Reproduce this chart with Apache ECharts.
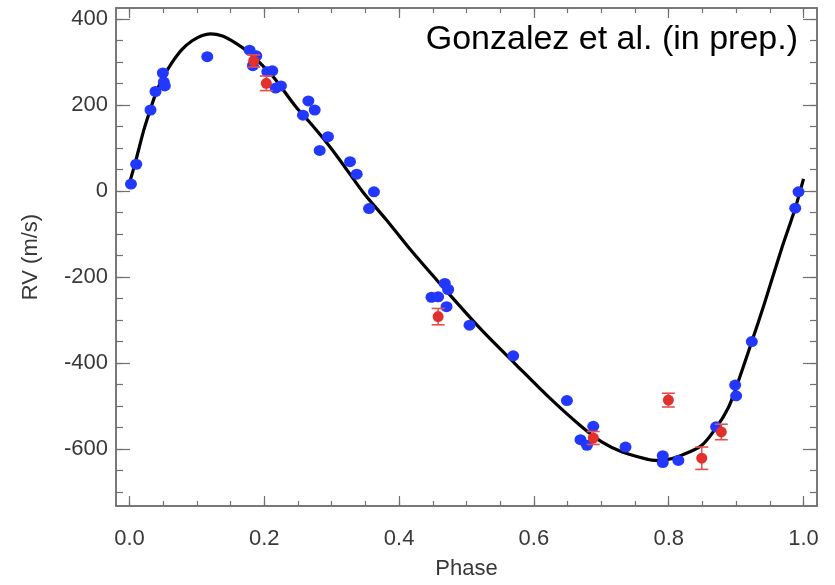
<!DOCTYPE html>
<html>
<head>
<meta charset="utf-8">
<script src="https://cdn.jsdelivr.net/npm/echarts@6/dist/echarts.min.js"></script>
<style>
html,body{margin:0;padding:0;background:#fff;}
#chart{width:835px;height:585px;}
</style>
</head>
<body>
<div id="chart"></div>
<script>
// ---- data ----
const bluePhase = [0.0022,0.0100,0.0312,0.0386,0.0495,0.0509,0.0524,0.1154,0.1782,0.1882,0.1831,0.2045,0.2119,0.2168,0.2247,0.2574,0.2654,0.2748,0.2945,0.2822,0.3272,0.3371,0.3627,0.3554,0.4678,0.4728,0.4481,0.4579,0.4704,0.5045,0.5693,0.6490,0.6881,0.6691,0.6787,0.7359,0.7912,0.7912,0.8143,0.8703,0.8986,0.9000,0.9233,0.9877,0.9926];
const blueRV    = [16,62,188,231,274,253,244,312,327,314,291,277,279,239,244,176,209,188,126,94,68,39,-2,-41,-215,-229,-247,-246,-269,-312,-383,-487,-547,-578,-591,-595,-615,-631,-626,-548,-451,-476,-350,-40,-2];

const redPhase = [0.1842,0.2030,0.4579,0.6881,0.7995,0.8490,0.8780];
const redRV    = [302,250,-292,-574,-486,-621,-560];
const redErr   = [14,17,19,15,16,26,18];

const curvePhase = [0.000,0.009,0.021,0.029,0.039,0.049,0.063,0.078,0.093,0.108,0.120,0.138,0.157,0.177,0.197,0.215,0.2465,0.267,0.290,0.312,0.3465,0.381,0.416,0.4604,0.5223,0.5718,0.6213,0.6709,0.7006,0.7303,0.7698,0.7797,0.795,0.8194,0.8491,0.8714,0.8886,0.8986,0.9233,0.9421,0.9669,0.9877,1.000];
const curveRV    = [18,68,140,180,226,261,298,329,349,361,365,360,344,322,292,262,196,160,117,72,-3,-67,-135,-215,-323,-401,-478,-548,-583,-606,-624,-626,-625,-614,-591,-548,-503,-463,-350,-261,-137,-40,28];

const xMajorTicks = [0,0.2,0.4,0.6,0.8,1.0];
const xMinorTicks = [0,0.05,0.1,0.15,0.2,0.25,0.3,0.35,0.4,0.45,0.5,0.55,0.6,0.65,0.7,0.75,0.8,0.85,0.9,0.95,1.0];
const yMajorTicks = [-600,-400,-200,0,200,400];
const yMinorTicks = [-700,-650,-600,-550,-500,-450,-400,-350,-300,-250,-200,-150,-100,-50,0,50,100,150,200,250,300,350,400];

const xRange = [-0.02, 1.02];
const yRange = [-732, 425];

const FONT = "'Liberation Sans', Arial, Helvetica, sans-serif";
const AXIS_COLOR = '#707070';
const LABEL_COLOR = '#383838';

function xAx(pos, ticks, len, withLabel) {
  const a = {
    type: 'value', position: pos, min: xRange[0], max: xRange[1],
    splitLine: {show: false},
    axisLine: {show: true, onZero: false, lineStyle: {color: AXIS_COLOR, width: 1.5}},
    axisTick: {show: true, inside: true, length: len, customValues: ticks, lineStyle: {color: AXIS_COLOR, width: 1.2}},
    axisLabel: {show: false}
  };
  if (withLabel) {
    a.axisLabel = {show: true, customValues: xMajorTicks, formatter: v => Number(v).toFixed(1),
      fontSize: 22, color: LABEL_COLOR, fontFamily: FONT, margin: 22};
    a.name = 'Phase'; a.nameLocation = 'middle'; a.nameGap = 52;
    a.nameTextStyle = {fontSize: 22, color: LABEL_COLOR, fontFamily: FONT};
  }
  return a;
}
function yAx(pos, ticks, len, withLabel) {
  const a = {
    type: 'value', position: pos, min: yRange[0], max: yRange[1],
    splitLine: {show: false},
    axisLine: {show: true, onZero: false, lineStyle: {color: AXIS_COLOR, width: 1.5}},
    axisTick: {show: true, inside: true, length: len, customValues: ticks, lineStyle: {color: AXIS_COLOR, width: 1.2}},
    axisLabel: {show: false}
  };
  if (withLabel) {
    a.axisLabel = {show: true, customValues: yMajorTicks, formatter: v => String(Math.round(v)),
      fontSize: 22, color: LABEL_COLOR, fontFamily: FONT, margin: 8};
    a.name = 'RV (m/s)'; a.nameLocation = 'middle'; a.nameGap = 74;
    a.nameTextStyle = {fontSize: 22, color: LABEL_COLOR, fontFamily: FONT};
  }
  return a;
}

const curveData = curvePhase.map((p, i) => [p, curveRV[i]]);
const blueData = bluePhase.map((p, i) => [p, blueRV[i]]);
const redData = redPhase.map((p, i) => [p, redRV[i], redErr[i]]);

const chart = echarts.init(document.getElementById('chart'), null, {renderer: 'canvas'});
chart.setOption({
  animation: false,
  backgroundColor: '#ffffff',
  grid: {left: 116, right: 18, top: 8, bottom: 79, containLabel: false},
  xAxis: [
    xAx('bottom', xMajorTicks, 10, true),
    xAx('bottom', xMinorTicks, 5, false),
    xAx('top', xMajorTicks, 10, false),
    xAx('top', xMinorTicks, 5, false)
  ],
  yAxis: [
    yAx('left', yMajorTicks, 14, true),
    yAx('left', yMinorTicks, 7, false),
    yAx('right', yMajorTicks, 14, false),
    yAx('right', yMinorTicks, 7, false)
  ],
  graphic: [{
    type: 'text', right: 37, top: 23, z: 100,
    style: {text: 'Gonzalez et al. (in prep.)', font: '34px ' + FONT, fill: '#000'}
  }],
  series: [
    {
      type: 'line', data: curveData, xAxisIndex: 0, yAxisIndex: 0,
      showSymbol: false, smooth: 0.3, z: 2,
      lineStyle: {color: '#000', width: 3.2}
    },
    {
      type: 'scatter', data: blueData, xAxisIndex: 0, yAxisIndex: 0,
      symbol: 'circle', symbolSize: [12, 11], z: 3,
      itemStyle: {color: '#2238ff', opacity: 1}
    },
    {
      type: 'custom', data: redData, xAxisIndex: 0, yAxisIndex: 0, z: 4,
      renderItem: function (params, api) {
        const x = api.value(0), y = api.value(1), e = api.value(2);
        const top = api.coord([x, y + e]);
        const bot = api.coord([x, y - e]);
        const hw = 6.5;
        const st = {stroke: '#e8504c', lineWidth: 1.6};
        return {type: 'group', children: [
          {type: 'line', shape: {x1: top[0], y1: top[1], x2: bot[0], y2: bot[1]}, style: st},
          {type: 'line', shape: {x1: top[0] - hw, y1: top[1], x2: top[0] + hw, y2: top[1]}, style: st},
          {type: 'line', shape: {x1: bot[0] - hw, y1: bot[1], x2: bot[0] + hw, y2: bot[1]}, style: st}
        ]};
      }
    },
    {
      type: 'scatter', data: redData.map(d => [d[0], d[1]]), xAxisIndex: 0, yAxisIndex: 0,
      symbol: 'circle', symbolSize: 11, z: 5,
      itemStyle: {color: '#e3302c', opacity: 1}
    }
  ]
});
</script>
</body>
</html>
